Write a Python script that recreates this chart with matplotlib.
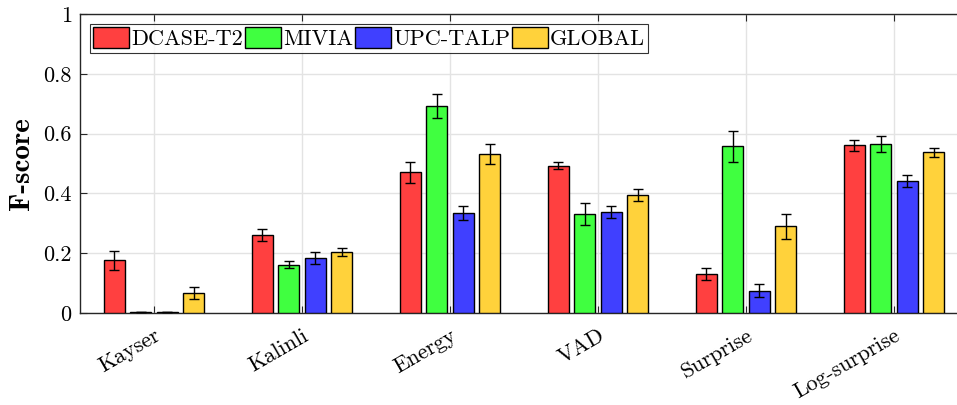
import numpy as np
import matplotlib
matplotlib.use("Agg")
import matplotlib.pyplot as plt
from matplotlib.transforms import ScaledTranslation

plt.rcParams["font.family"] = "serif"
plt.rcParams["font.serif"] = ["cmr10"]
plt.rcParams["mathtext.fontset"] = "cm"
plt.rcParams["axes.formatter.use_mathtext"] = True

methods = ["Kayser", "Kalinli", "Energy", "VAD", "Surprise", "Log-surprise"]
datasets = ["DCASE-T2", "MIVIA", "UPC-TALP", "GLOBAL"]
colors = ["#ff4040", "#40ff40", "#4040ff", "#ffd23b"]

dcase = [0.177, 0.261, 0.470, 0.493, 0.129, 0.561]
dcase_err = [0.032, 0.021, 0.035, 0.012, 0.020, 0.019]
mivia = [0.003, 0.162, 0.693, 0.331, 0.557, 0.565]
mivia_err = [0.001, 0.013, 0.040, 0.036, 0.052, 0.026]
upc = [0.002, 0.183, 0.335, 0.337, 0.074, 0.441]
upc_err = [0.0, 0.020, 0.024, 0.020, 0.022, 0.021]
glob = [0.068, 0.204, 0.532, 0.394, 0.290, 0.537]
glob_err = [0.020, 0.013, 0.033, 0.020, 0.042, 0.016]

values = [dcase, mivia, upc, glob]
errors = [dcase_err, mivia_err, upc_err, glob_err]

fig = plt.figure(figsize=(9.57, 4.05), dpi=100)
# the original figure is cropped on the right, so the axes run past the edge
ax = fig.add_axes([80 / 957, 92 / 405, 888 / 957, 299 / 405])

x = np.arange(1, len(methods) + 1)
offsets = [-0.27, -0.09, 0.09, 0.27]
width = 0.142
for vals, errs, off, col, name in zip(values, errors, offsets, colors, datasets):
    ax.bar(x + off, vals, width, color=col, edgecolor="black", linewidth=1.0,
           label=name, zorder=3)
    ax.errorbar(x + off, vals, yerr=errs, fmt="none", ecolor="black",
                elinewidth=1.0, capsize=3.5, capthick=1.0, zorder=4)

ax.set_xlim(0.5, 6.5)
ax.set_ylim(0, 1)
ax.set_xticks(x)
ax.set_xticklabels(methods, rotation=30, ha="right", rotation_mode="anchor",
                   fontsize=16)
for lab in ax.get_xticklabels():
    lab.set_transform(lab.get_transform() + ScaledTranslation(6 / 72, 0, fig.dpi_scale_trans))
ax.set_yticks([0, 0.2, 0.4, 0.6, 0.8, 1])
ax.set_yticklabels(["0", "0.2", "0.4", "0.6", "0.8", "1"], fontsize=16)
ax.tick_params(direction="in", top=True, right=True, length=5, width=0.8,
               color="#262626")
ax.tick_params(axis="x", pad=9)
ax.tick_params(axis="y", pad=6)
ax.grid(True, color="#e3e3e3", linewidth=1.0, zorder=0)
ax.set_axisbelow(True)
for s in ax.spines.values():
    s.set_color("#262626")
    s.set_linewidth(1.0)

ax.set_ylabel("F-score", fontsize=21, fontfamily="cmb10")
ax.yaxis.set_label_coords(-45 / 888, 0.5)

leg = ax.legend(loc="upper left", bbox_to_anchor=(10 / 888, 1 - 10 / 299),
                ncol=4, fontsize=16, frameon=True, fancybox=False,
                edgecolor="black", handlelength=1.6, handleheight=1.05,
                handletextpad=0.1, columnspacing=0.1, borderpad=0.15,
                borderaxespad=0.0)
leg.get_frame().set_linewidth(0.8)

fig.savefig("out.png", dpi=100)
